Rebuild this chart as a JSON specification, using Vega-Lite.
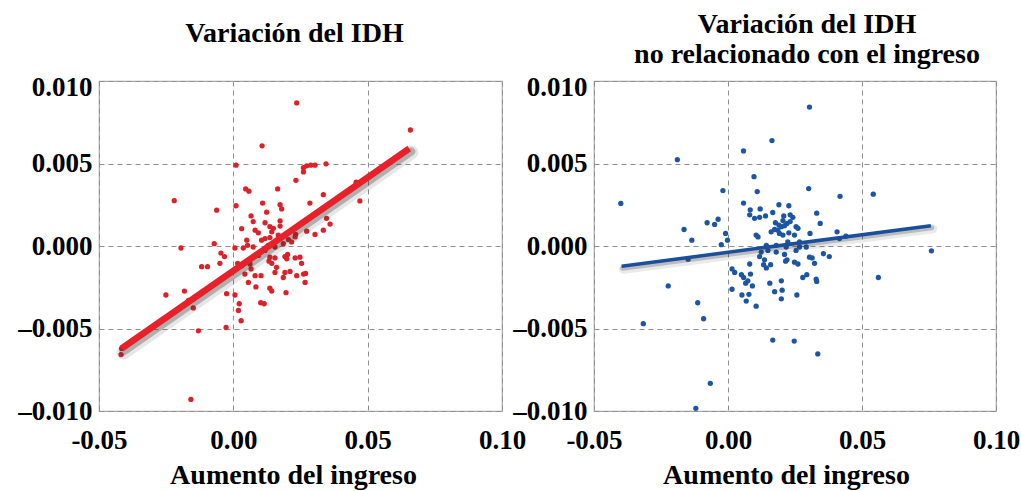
{
  "$schema": "https://vega.github.io/schema/vega-lite/v6.json",
  "background": "white",
  "padding": {"left": 17, "top": 10, "right": 4, "bottom": 0},
  "bounds": "flush",
  "spacing": 92,
  "config": {
    "font": "Liberation Serif",
    "view": {"stroke": "#a8a8a8", "strokeWidth": 1.2},
    "axis": {
      "domain": false,
      "ticks": false,
      "grid": true,
      "gridColor": "#8f8f8f",
      "gridDash": [5, 4],
      "gridWidth": 1,
      "labelFont": "Liberation Serif",
      "labelFontSize": 27,
      "labelFontWeight": "bold",
      "labelColor": "#000000",
      "labelOverlap": false,
      "labelFlush": false,
      "titleFont": "Liberation Serif",
      "titleFontSize": 28,
      "titleFontWeight": "bold",
      "titleColor": "#000000"
    },
    "title": {
      "font": "Liberation Serif",
      "fontSize": 28,
      "fontWeight": "bold",
      "color": "#000000",
      "lineHeight": 30,
      "anchor": "middle"
    }
  },
  "datasets": {
    "idh": [
      {"ingreso": 0.0236, "idh": 0.00867}, {"ingreso": 0.0659, "idh": 0.00703}, {"ingreso": 0.0107, "idh": 0.00607},
      {"ingreso": 0.0010, "idh": 0.00490}, {"ingreso": 0.0345, "idh": 0.00498}, {"ingreso": 0.0261, "idh": 0.00475},
      {"ingreso": 0.0273, "idh": 0.00486}, {"ingreso": 0.0261, "idh": 0.00449}, {"ingreso": 0.0288, "idh": 0.00490},
      {"ingreso": 0.0304, "idh": 0.00490}, {"ingreso": 0.0233, "idh": 0.00398}, {"ingreso": 0.0165, "idh": 0.00346},
      {"ingreso": 0.0046, "idh": 0.00346}, {"ingreso": 0.0058, "idh": 0.00332}, {"ingreso": -0.0220, "idh": 0.00275},
      {"ingreso": 0.0471, "idh": 0.00273}, {"ingreso": 0.0457, "idh": 0.00387}, {"ingreso": 0.0335, "idh": 0.00311},
      {"ingreso": 0.0285, "idh": 0.00260}, {"ingreso": -0.0062, "idh": 0.00217}, {"ingreso": 0.0010, "idh": 0.00244},
      {"ingreso": 0.0109, "idh": 0.00260}, {"ingreso": 0.0174, "idh": 0.00250}, {"ingreso": 0.0180, "idh": 0.00225},
      {"ingreso": 0.0124, "idh": 0.00205}, {"ingreso": 0.0066, "idh": 0.00182}, {"ingreso": 0.0347, "idh": 0.00168},
      {"ingreso": 0.0360, "idh": 0.00133}, {"ingreso": 0.0074, "idh": 0.00148}, {"ingreso": 0.0031, "idh": 0.00105},
      {"ingreso": 0.0081, "idh": 0.00096}, {"ingreso": 0.0093, "idh": 0.00080}, {"ingreso": 0.0118, "idh": 0.00141},
      {"ingreso": 0.0136, "idh": 0.00117}, {"ingreso": 0.0143, "idh": 0.00086}, {"ingreso": 0.0149, "idh": 0.00107},
      {"ingreso": 0.0174, "idh": 0.00152}, {"ingreso": 0.0174, "idh": 0.00121}, {"ingreso": 0.0335, "idh": 0.00096},
      {"ingreso": 0.0304, "idh": 0.00070}, {"ingreso": 0.0273, "idh": 0.00090}, {"ingreso": 0.0232, "idh": 0.00070},
      {"ingreso": 0.0050, "idh": 0.00035}, {"ingreso": 0.0006, "idh": -0.00012}, {"ingreso": 0.0037, "idh": -0.00012},
      {"ingreso": 0.0053, "idh": 0.00004}, {"ingreso": -0.0071, "idh": 0.00014}, {"ingreso": -0.0195, "idh": -0.00012},
      {"ingreso": -0.0046, "idh": -0.00043}, {"ingreso": -0.0033, "idh": -0.00064}, {"ingreso": -0.0118, "idh": -0.00125},
      {"ingreso": -0.0096, "idh": -0.00125}, {"ingreso": -0.0050, "idh": -0.00105}, {"ingreso": 0.0016, "idh": -0.00105},
      {"ingreso": 0.0066, "idh": -0.00139}, {"ingreso": 0.0043, "idh": -0.00170}, {"ingreso": 0.0081, "idh": -0.00180},
      {"ingreso": 0.0103, "idh": -0.00180}, {"ingreso": 0.0133, "idh": -0.00092}, {"ingreso": 0.0143, "idh": -0.00105},
      {"ingreso": 0.0155, "idh": -0.00072}, {"ingreso": 0.0136, "idh": -0.00068}, {"ingreso": 0.0192, "idh": -0.00064},
      {"ingreso": 0.0202, "idh": -0.00051}, {"ingreso": 0.0199, "idh": -0.00078}, {"ingreso": 0.0230, "idh": -0.00072},
      {"ingreso": 0.0248, "idh": -0.00068}, {"ingreso": 0.0254, "idh": -0.00105}, {"ingreso": 0.0155, "idh": -0.00160},
      {"ingreso": 0.0161, "idh": -0.00129}, {"ingreso": 0.0192, "idh": -0.00160}, {"ingreso": 0.0211, "idh": -0.00154},
      {"ingreso": 0.0236, "idh": -0.00180}, {"ingreso": 0.0261, "idh": -0.00170}, {"ingreso": 0.0269, "idh": -0.00166},
      {"ingreso": 0.0267, "idh": -0.00221}, {"ingreso": 0.0186, "idh": -0.00191}, {"ingreso": 0.0056, "idh": -0.00221},
      {"ingreso": 0.0084, "idh": -0.00248}, {"ingreso": 0.0136, "idh": -0.00256}, {"ingreso": 0.0143, "idh": -0.00273},
      {"ingreso": 0.0196, "idh": -0.00283}, {"ingreso": -0.0025, "idh": -0.00289}, {"ingreso": 0.0006, "idh": -0.00297},
      {"ingreso": 0.0022, "idh": -0.00350}, {"ingreso": 0.0019, "idh": -0.00391}, {"ingreso": 0.0029, "idh": -0.00453},
      {"ingreso": 0.0102, "idh": -0.00344}, {"ingreso": 0.0115, "idh": -0.00350}, {"ingreso": -0.0027, "idh": -0.00494},
      {"ingreso": -0.0130, "idh": -0.00514}, {"ingreso": -0.0149, "idh": -0.00375}, {"ingreso": -0.0251, "idh": -0.00297},
      {"ingreso": -0.0182, "idh": -0.00273}, {"ingreso": -0.0167, "idh": -0.00330}, {"ingreso": -0.0418, "idh": -0.00658},
      {"ingreso": -0.0416, "idh": -0.00621}, {"ingreso": -0.0158, "idh": -0.00930}, {"ingreso": 0.0105, "idh": 0.00035},
      {"ingreso": 0.0118, "idh": 0.00045}, {"ingreso": 0.0136, "idh": 0.00051}, {"ingreso": 0.0167, "idh": 0.00066},
      {"ingreso": 0.0205, "idh": 0.00039}, {"ingreso": 0.0217, "idh": 0.00025}, {"ingreso": 0.0130, "idh": 0.00004},
      {"ingreso": 0.0155, "idh": -0.00006}, {"ingreso": 0.0186, "idh": 0.00014}, {"ingreso": 0.0118, "idh": -0.00027},
      {"ingreso": 0.0093, "idh": -0.00057}, {"ingreso": 0.0074, "idh": -0.00006}, {"ingreso": 0.0230, "idh": 0.00055},
      {"ingreso": 0.0031, "idh": -0.00119}, {"ingreso": 0.0062, "idh": -0.00109}
    ],
    "idhNoIngreso": [
      {"ingreso": 0.0304, "idh": 0.00842}, {"ingreso": 0.0164, "idh": 0.00639}, {"ingreso": 0.0058, "idh": 0.00576},
      {"ingreso": -0.0189, "idh": 0.00523}, {"ingreso": 0.0097, "idh": 0.00420}, {"ingreso": 0.0301, "idh": 0.00348},
      {"ingreso": 0.0109, "idh": 0.00330}, {"ingreso": -0.0019, "idh": 0.00336}, {"ingreso": 0.0542, "idh": 0.00314},
      {"ingreso": 0.0418, "idh": 0.00301}, {"ingreso": -0.0400, "idh": 0.00258}, {"ingreso": 0.0058, "idh": 0.00260},
      {"ingreso": 0.0083, "idh": 0.00219}, {"ingreso": 0.0081, "idh": 0.00189}, {"ingreso": 0.0120, "idh": 0.00225},
      {"ingreso": 0.0099, "idh": 0.00168}, {"ingreso": 0.0118, "idh": 0.00174}, {"ingreso": 0.0140, "idh": 0.00182},
      {"ingreso": 0.0190, "idh": 0.00250}, {"ingreso": 0.0227, "idh": 0.00244}, {"ingreso": 0.0167, "idh": 0.00203},
      {"ingreso": 0.0208, "idh": 0.00182}, {"ingreso": 0.0205, "idh": 0.00154}, {"ingreso": 0.0232, "idh": 0.00189},
      {"ingreso": 0.0242, "idh": 0.00174}, {"ingreso": 0.0177, "idh": 0.00141}, {"ingreso": 0.0190, "idh": 0.00127},
      {"ingreso": 0.0199, "idh": 0.00117}, {"ingreso": 0.0211, "idh": 0.00123}, {"ingreso": 0.0220, "idh": 0.00137},
      {"ingreso": 0.0232, "idh": 0.00148}, {"ingreso": 0.0161, "idh": 0.00086}, {"ingreso": 0.0174, "idh": 0.00100},
      {"ingreso": 0.0186, "idh": 0.00096}, {"ingreso": 0.0192, "idh": 0.00076}, {"ingreso": 0.0205, "idh": 0.00066},
      {"ingreso": 0.0227, "idh": 0.00080}, {"ingreso": 0.0254, "idh": 0.00117}, {"ingreso": 0.0261, "idh": 0.00107},
      {"ingreso": 0.0248, "idh": 0.00066}, {"ingreso": 0.0105, "idh": 0.00066}, {"ingreso": 0.0112, "idh": 0.00055},
      {"ingreso": 0.0331, "idh": 0.00199}, {"ingreso": 0.0344, "idh": 0.00137}, {"ingreso": 0.0306, "idh": 0.00076},
      {"ingreso": -0.0078, "idh": 0.00141}, {"ingreso": -0.0050, "idh": 0.00131}, {"ingreso": -0.0037, "idh": 0.00162},
      {"ingreso": -0.0009, "idh": 0.00076}, {"ingreso": -0.0002, "idh": 0.00035}, {"ingreso": -0.0025, "idh": 0.00008},
      {"ingreso": -0.0164, "idh": 0.00100}, {"ingreso": -0.0135, "idh": 0.00035}, {"ingreso": -0.0149, "idh": -0.00080},
      {"ingreso": 0.0407, "idh": 0.00086}, {"ingreso": 0.0416, "idh": 0.00045}, {"ingreso": 0.0440, "idh": 0.00059},
      {"ingreso": 0.0143, "idh": 0.00004}, {"ingreso": 0.0149, "idh": -0.00027}, {"ingreso": 0.0124, "idh": -0.00037},
      {"ingreso": 0.0180, "idh": 0.00004}, {"ingreso": 0.0217, "idh": -0.00006}, {"ingreso": 0.0223, "idh": 0.00025},
      {"ingreso": 0.0267, "idh": 0.00025}, {"ingreso": 0.0267, "idh": -0.00006}, {"ingreso": 0.0254, "idh": -0.00027},
      {"ingreso": 0.0292, "idh": -0.00006}, {"ingreso": 0.0304, "idh": -0.00068}, {"ingreso": 0.0118, "idh": -0.00064},
      {"ingreso": 0.0136, "idh": -0.00084}, {"ingreso": 0.0133, "idh": -0.00113}, {"ingreso": 0.0143, "idh": -0.00133},
      {"ingreso": 0.0159, "idh": -0.00113}, {"ingreso": 0.0081, "idh": -0.00109}, {"ingreso": 0.0211, "idh": -0.00051},
      {"ingreso": 0.0220, "idh": -0.00084}, {"ingreso": 0.0248, "idh": -0.00098}, {"ingreso": 0.0261, "idh": -0.00109},
      {"ingreso": 0.0314, "idh": -0.00072}, {"ingreso": 0.0323, "idh": -0.00105}, {"ingreso": 0.0356, "idh": -0.00047},
      {"ingreso": 0.0378, "idh": -0.00064}, {"ingreso": 0.0015, "idh": -0.00139}, {"ingreso": 0.0025, "idh": -0.00160},
      {"ingreso": 0.0050, "idh": -0.00174}, {"ingreso": 0.0058, "idh": -0.00191}, {"ingreso": 0.0084, "idh": -0.00170},
      {"ingreso": 0.0074, "idh": -0.00211}, {"ingreso": 0.0066, "idh": -0.00225}, {"ingreso": 0.0091, "idh": -0.00242},
      {"ingreso": 0.0279, "idh": -0.00191}, {"ingreso": 0.0294, "idh": -0.00174}, {"ingreso": 0.0329, "idh": -0.00201},
      {"ingreso": 0.0331, "idh": -0.00215}, {"ingreso": 0.0156, "idh": -0.00225}, {"ingreso": 0.0199, "idh": -0.00211},
      {"ingreso": 0.0202, "idh": -0.00268}, {"ingreso": 0.0174, "idh": -0.00277}, {"ingreso": 0.0199, "idh": -0.00320},
      {"ingreso": 0.0015, "idh": -0.00262}, {"ingreso": 0.0052, "idh": -0.00297}, {"ingreso": 0.0078, "idh": -0.00293},
      {"ingreso": 0.0068, "idh": -0.00334}, {"ingreso": 0.0257, "idh": -0.00297}, {"ingreso": 0.0105, "idh": -0.00365},
      {"ingreso": 0.0561, "idh": -0.00191}, {"ingreso": 0.0759, "idh": -0.00029}, {"ingreso": -0.0223, "idh": -0.00242},
      {"ingreso": -0.0113, "idh": -0.00344}, {"ingreso": -0.0091, "idh": -0.00441}, {"ingreso": -0.0316, "idh": -0.00471},
      {"ingreso": 0.0167, "idh": -0.00570}, {"ingreso": 0.0247, "idh": -0.00576}, {"ingreso": 0.0335, "idh": -0.00654},
      {"ingreso": -0.0066, "idh": -0.00832}, {"ingreso": -0.0120, "idh": -0.00984}, {"ingreso": 0.0180, "idh": -0.00037},
      {"ingreso": 0.0215, "idh": -0.00092}
    ],
    "ajusteIdh": [
      {"ingreso": -0.0416, "idh": -0.00621},
      {"ingreso": 0.0655, "idh": 0.00591}
    ],
    "ajusteIdhNoIngreso": [
      {"ingreso": -0.0397, "idh": -0.00123},
      {"ingreso": 0.0757, "idh": 0.00123}
    ]
  },
  "hconcat": [
    {
      "title": {"text": "Variación del IDH", "dx": -6, "offset": 25},
      "width": 403,
      "height": 330,
      "encoding": {
        "x": {
          "field": "ingreso",
          "type": "quantitative",
          "scale": {"domain": [-0.05, 0.1], "nice": false, "zero": false},
          "axis": {
            "values": [-0.05, 0, 0.05, 0.1],
            "labelExpr": "(datum.value < 0 ? '-' : '') + format(abs(datum.value), '.2f')",
            "labelPadding": 16,
            "title": "Aumento del ingreso",
            "titlePadding": 8,
            "titleX": 194
          }
        },
        "y": {
          "field": "idh",
          "type": "quantitative",
          "scale": {"domain": [-0.01, 0.01], "nice": false, "zero": false},
          "axis": {
            "values": [-0.01, -0.005, 0, 0.005, 0.01],
            "labelExpr": "(datum.value < 0 ? '–' : '') + format(abs(datum.value), '.3f')",
            "labelPadding": 7,
            "labelOffset": {"condition": {"test": "datum.value > 0.009", "value": 6}, "value": 0},
            "title": null
          }
        }
      },
      "layer": [
        {
          "data": {"name": "idh"},
          "mark": {"type": "circle", "size": 28, "color": "#dc2128", "opacity": 1}
        },
        {
          "data": {"name": "ajusteIdh"},
          "mark": {"type": "line", "color": "#333333", "opacity": 0.12, "strokeWidth": 14, "xOffset": 2, "yOffset": 4, "strokeCap": "round"}
        },
        {
          "data": {"name": "ajusteIdh"},
          "mark": {"type": "line", "color": "#333333", "opacity": 0.3, "strokeWidth": 8, "xOffset": 2, "yOffset": 3, "strokeCap": "round"}
        },
        {
          "data": {"name": "ajusteIdh"},
          "mark": {"type": "line", "color": "#e8202a", "strokeWidth": 6.5}
        }
      ]
    },
    {
      "title": {"text": ["Variación del IDH", "no relacionado con el ingreso"], "dx": 12, "offset": 4},
      "width": 402,
      "height": 330,
      "encoding": {
        "x": {
          "field": "ingreso",
          "type": "quantitative",
          "scale": {"domain": [-0.05, 0.1], "nice": false, "zero": false},
          "axis": {
            "values": [-0.05, 0, 0.05, 0.1],
            "labelExpr": "(datum.value < 0 ? '-' : '') + format(abs(datum.value), '.2f')",
            "labelPadding": 16,
            "title": "Aumento del ingreso",
            "titlePadding": 8,
            "titleX": 192
          }
        },
        "y": {
          "field": "idh",
          "type": "quantitative",
          "scale": {"domain": [-0.01, 0.01], "nice": false, "zero": false},
          "axis": {
            "values": [-0.01, -0.005, 0, 0.005, 0.01],
            "labelExpr": "(datum.value < 0 ? '–' : '') + format(abs(datum.value), '.3f')",
            "labelPadding": 7,
            "labelOffset": {"condition": {"test": "datum.value > 0.009", "value": 6}, "value": 0},
            "title": null
          }
        }
      },
      "layer": [
        {
          "data": {"name": "idhNoIngreso"},
          "mark": {"type": "circle", "size": 28, "color": "#1c56a3", "opacity": 1}
        },
        {
          "data": {"name": "ajusteIdhNoIngreso"},
          "mark": {"type": "line", "color": "#333333", "opacity": 0.1, "strokeWidth": 9, "xOffset": 2, "yOffset": 3, "strokeCap": "round"}
        },
        {
          "data": {"name": "ajusteIdhNoIngreso"},
          "mark": {"type": "line", "color": "#333333", "opacity": 0.25, "strokeWidth": 5, "xOffset": 1, "yOffset": 2, "strokeCap": "round"}
        },
        {
          "data": {"name": "ajusteIdhNoIngreso"},
          "mark": {"type": "line", "color": "#1a4f9c", "strokeWidth": 3.5}
        }
      ]
    }
  ]
}
